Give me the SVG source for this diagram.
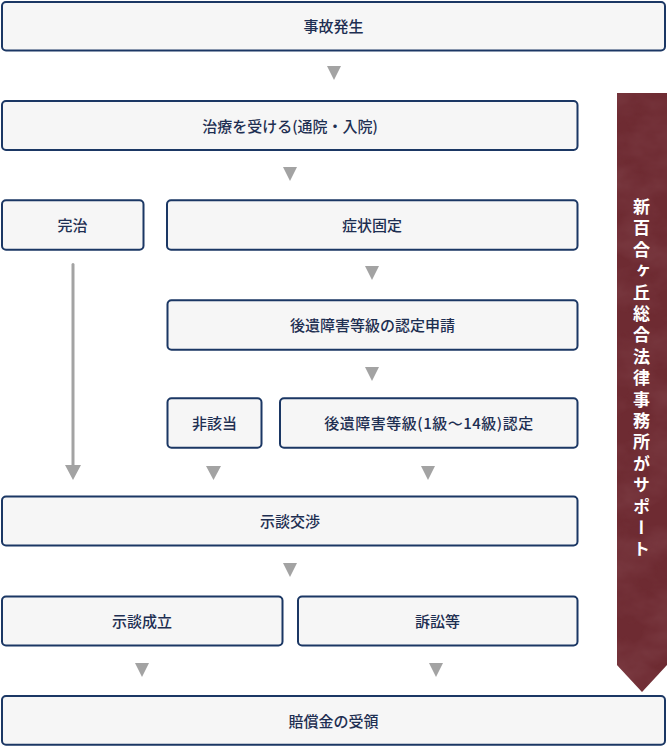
<svg xmlns="http://www.w3.org/2000/svg" width="667" height="747" viewBox="0 0 667 747">
<style>
.box{fill:#f6f6f6;stroke:#1b3764;stroke-width:2}
.t{font-family:"Noto Sans CJK JP","Noto Sans",sans-serif;font-size:15px;font-weight:500;fill:#1e2f52;text-anchor:middle}
.ar{fill:#a3a3a3}
.bt{font-family:"Noto Sans CJK JP","Noto Sans",sans-serif;font-size:17px;font-weight:bold;fill:#ffffff;writing-mode:vertical-rl;letter-spacing:4.4px}
</style>
<defs>
<filter id="marble" x="0" y="0" width="100%" height="100%">
<feTurbulence type="fractalNoise" baseFrequency="0.02 0.03" numOctaves="4" seed="7" result="n"/>
<feColorMatrix in="n" type="matrix" values="0 0 0 0 0.28  0 0 0 0 0.09  0 0 0 0 0.11  1.4 0 0 0 -0.5" result="c"/>
<feComposite in="c" in2="SourceGraphic" operator="in"/>
</filter>
</defs>
<g id="banner">
<path d="M617 93 H667 V665 L642 692 L617 665 Z" fill="#6e2b32"/>
<path d="M617 93 H667 V665 L642 692 L617 665 Z" fill="#6e2b32" filter="url(#marble)" opacity="0.5"/>
<text class="bt" x="641.5" y="198">新百合ヶ丘総合法律事務所がサポート</text>
</g>
<g id="connectors">
<path class="ar" d="M327 66 H341 L334 80 Z"/>
<path class="ar" d="M283 167 H297 L290 181 Z"/>
<path class="ar" d="M365 266 H379 L372 280 Z"/>
<path class="ar" d="M365 367 H379 L372 381 Z"/>
<line x1="73" y1="264.5" x2="73" y2="468" stroke="#a3a3a3" stroke-width="3" stroke-linecap="round"/>
<path class="ar" d="M65 465 H81 L73 480 Z"/>
<path class="ar" d="M206 466 H221 L213.5 480 Z"/>
<path class="ar" d="M421 466 H435 L428 480 Z"/>
<path class="ar" d="M283 563 H297 L290 577 Z"/>
<path class="ar" d="M135 663 H149 L142 677 Z"/>
<path class="ar" d="M429 663 H443 L436 677 Z"/>
</g>
<g id="n1"><rect class="box" x="2" y="2" width="663" height="48.5" rx="4"/><text class="t" x="333.5" y="32">事故発生</text></g>
<g id="n2"><rect class="box" x="2" y="101" width="575.5" height="49" rx="4"/><text class="t" x="290" y="132">治療を受ける(通院・入院)</text></g>
<g id="n3"><rect class="box" x="2" y="200.3" width="141.5" height="49.4" rx="4"/><text class="t" x="72.5" y="231">完治</text></g>
<g id="n4"><rect class="box" x="167" y="200.3" width="410.5" height="49.4" rx="4"/><text class="t" x="372" y="231">症状固定</text></g>
<g id="n5"><rect class="box" x="167.5" y="300.3" width="410" height="49.4" rx="4"/><text class="t" x="372.5" y="331">後遺障害等級の認定申請</text></g>
<g id="n6"><rect class="box" x="167.5" y="398.3" width="94" height="49.4" rx="4"/><text class="t" x="214.5" y="429">非該当</text></g>
<g id="n7"><rect class="box" x="280" y="398.3" width="297.5" height="49.4" rx="4"/><text class="t" x="429" y="429" letter-spacing="0.5">後遺障害等級(1級〜14級)認定</text></g>
<g id="n8"><rect class="box" x="2" y="496.5" width="575.5" height="49" rx="4"/><text class="t" x="290" y="527">示談交渉</text></g>
<g id="n9"><rect class="box" x="2" y="596.5" width="280.5" height="49" rx="4"/><text class="t" x="142" y="627">示談成立</text></g>
<g id="n10"><rect class="box" x="298" y="596.5" width="279.5" height="49" rx="4"/><text class="t" x="437.5" y="627">訴訟等</text></g>
<g id="n11"><rect class="box" x="2" y="696" width="663" height="48.7" rx="4"/><text class="t" x="333.5" y="726.5">賠償金の受領</text></g>
</svg>
